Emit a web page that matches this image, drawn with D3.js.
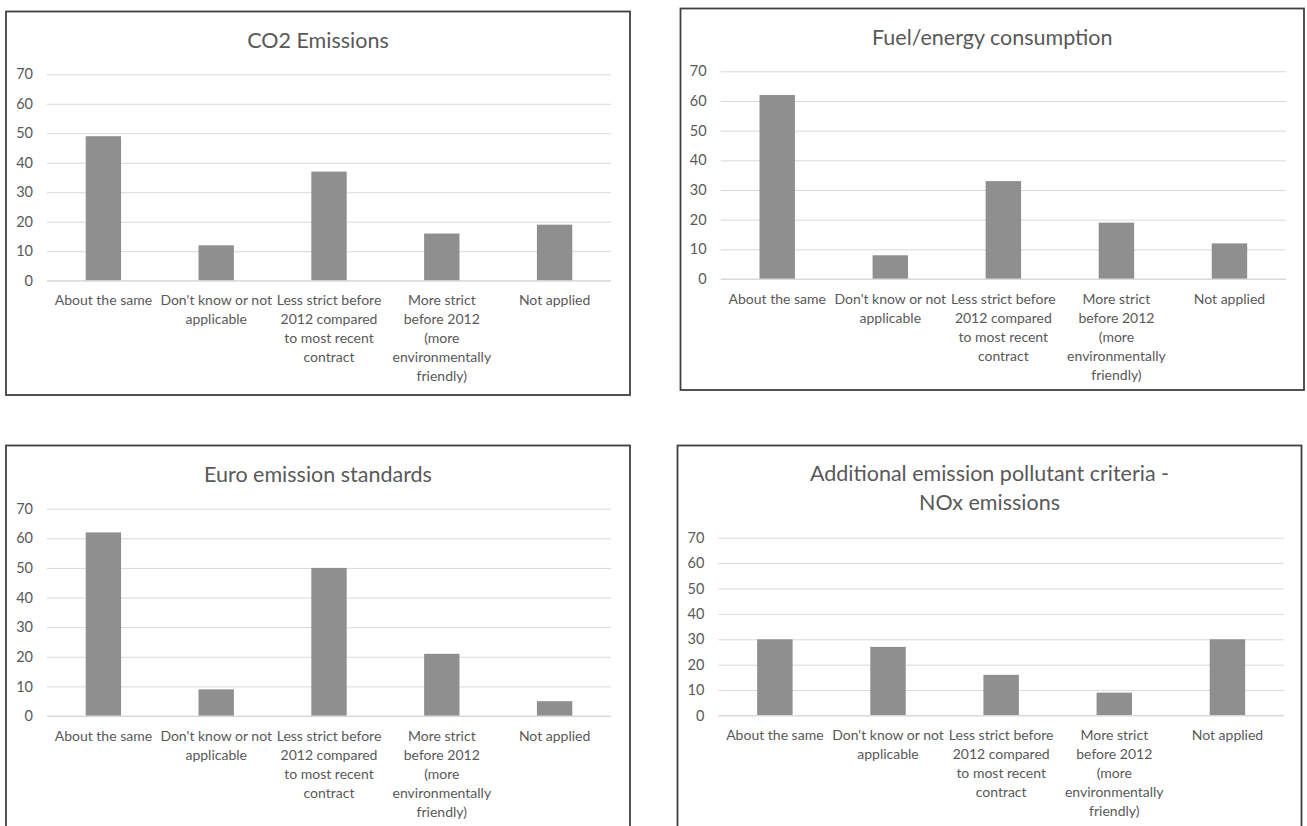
<!DOCTYPE html>
<html>
<head>
<meta charset="utf-8">
<script src="https://cdn.jsdelivr.net/npm/d3@7/dist/d3.min.js"></script>
<style>
  html, body { margin: 0; padding: 0; background: #ffffff; }
  svg { display: block; }
  text { font-family: Lato, "Open Sans", sans-serif; fill: #595959; }
</style>
</head>
<body>
<svg id="chart" width="1307" height="826"></svg>
<script>
// ---------- DATA ----------
const categories = [
  "About the same",
  "Don't know or not applicable",
  "Less strict before 2012 compared to most recent contract",
  "More strict before 2012 (more environmentally friendly)",
  "Not applied"
];
const categoryLabelLines = [
  ["About the same"],
  ["Don't know or not", "applicable"],
  ["Less strict before", "2012 compared", "to most recent", "contract"],
  ["More strict", "before 2012", "(more", "environmentally", "friendly)"],
  ["Not applied"]
];
const yTicks = [0, 10, 20, 30, 40, 50, 60, 70];

const co2Title = ["CO2 Emissions"];
const co2Values = [49, 12, 37, 16, 19];

const fuelTitle = ["Fuel/energy consumption"];
const fuelValues = [62, 8, 33, 19, 12];

const euroTitle = ["Euro emission standards"];
const euroValues = [62, 9, 50, 21, 5];

const noxTitle = ["Additional emission pollutant criteria -", "NOx emissions"];
const noxValues = [30, 27, 16, 9, 30];

// ---------- LAYOUT ----------
const panels = [
  { title: co2Title,  values: co2Values,
    box: { x: 6, y: 11.5, w: 624, h: 383.5 },
    plot: { x0: 47, x1: 611, yBottom: 280.7, yTop: 74.3 },
    titleY: 48 },
  { title: fuelTitle, values: fuelValues,
    box: { x: 680.5, y: 8.5, w: 623.5, h: 381.5 },
    plot: { x0: 720.7, x1: 1286, yBottom: 279, yTop: 71.3 },
    titleY: 44.6 },
  { title: euroTitle, values: euroValues,
    box: { x: 6, y: 445.5, w: 624, h: 400 },
    plot: { x0: 47, x1: 611, yBottom: 716, yTop: 508.7 },
    titleY: 481.5 },
  { title: noxTitle,  values: noxValues,
    box: { x: 677.5, y: 445.5, w: 624, h: 400 },
    plot: { x0: 718.3, x1: 1284, yBottom: 715.5, yTop: 537.7 },
    titleY: 480.5 }
];

const svg = d3.select("#chart");
const barColor = "#8f8f8f";
const gridColor = "#d9d9d9";
const gapWidth = 2.19; // Excel-like gap width
const barFrac = 1 / (1 + gapWidth);

panels.forEach(p => {
  const g = svg.append("g");

  // chart border
  g.append("rect")
    .attr("x", p.box.x).attr("y", p.box.y)
    .attr("width", p.box.w).attr("height", p.box.h)
    .attr("fill", "#ffffff")
    .attr("stroke", "#404040")
    .attr("stroke-width", 1.8);

  // title
  g.append("text")
    .attr("text-anchor", "middle")
    .attr("font-size", 21.5)
    .selectAll("tspan")
    .data(p.title)
    .join("tspan")
    .attr("x", p.box.x + p.box.w / 2)
    .attr("y", (d, i) => p.titleY + i * 29)
    .text(d => d);

  // scales
  const x = d3.scaleBand()
    .domain(categories)
    .range([p.plot.x0, p.plot.x1])
    .paddingInner(1 - barFrac)
    .paddingOuter((1 - barFrac) / 2);
  const y = d3.scaleLinear()
    .domain([0, 70])
    .range([p.plot.yBottom, p.plot.yTop]);

  // y axis with gridlines
  const yAxis = d3.axisLeft(y)
    .tickValues(yTicks)
    .tickSize(-(p.plot.x1 - p.plot.x0))
    .tickPadding(14)
    .tickFormat(d3.format("d"));
  const ya = g.append("g")
    .attr("transform", `translate(${p.plot.x0},0)`)
    .call(yAxis);
  ya.select(".domain").remove();
  ya.selectAll(".tick line").attr("stroke", gridColor).attr("stroke-width", 1);
  ya.selectAll(".tick text")
    .attr("font-family", "Lato, 'Open Sans', sans-serif")
    .attr("font-size", 14.5)
    .attr("fill", "#595959");

  // bars
  g.append("g")
    .selectAll("rect")
    .data(p.values)
    .join("rect")
    .attr("x", (d, i) => x(categories[i]))
    .attr("width", x.bandwidth())
    .attr("y", d => y(d))
    .attr("height", d => y(0) - y(d))
    .attr("fill", barColor);

  // x axis line (baseline)
  const xAxis = d3.axisBottom(x).tickSize(0).tickFormat("");
  const xa = g.append("g")
    .attr("transform", `translate(0,${y(0)})`)
    .call(xAxis);
  xa.select(".domain").attr("stroke", gridColor)
    .attr("d", `M${p.plot.x0},0H${p.plot.x1}`);

  // category labels (wrapped)
  const labels = g.append("g");
  categories.forEach((c, i) => {
    const cx = x(c) + x.bandwidth() / 2;
    labels.append("text")
      .attr("text-anchor", "middle")
      .attr("font-size", 14)
      .selectAll("tspan")
      .data(categoryLabelLines[i])
      .join("tspan")
      .attr("x", cx)
      .attr("y", (d, j) => y(0) + 24.5 + j * 19)
      .text(d => d);
  });
});
</script>
</body>
</html>
